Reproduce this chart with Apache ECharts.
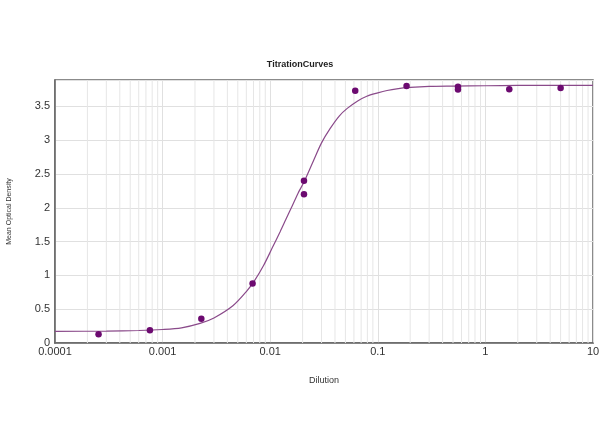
<!DOCTYPE html>
<html>
<head>
<meta charset="utf-8">
<script src="https://cdn.jsdelivr.net/npm/echarts@6/dist/echarts.min.js"></script>
<style>
html,body{margin:0;padding:0;background:#fff;}
#chart{width:600px;height:447px;}
</style>
</head>
<body>
<div id="chart"></div>
<script>
// Measured points (dilution, mean optical density)
const dilutions = [0.000254, 0.000762, 0.00229, 0.00686, 0.0206, 0.0206, 0.0617, 0.185, 0.556, 0.556, 1.667, 5];
const odValues  = [0.13, 0.19, 0.36, 0.88, 2.40, 2.20, 3.73, 3.80, 3.79, 3.75, 3.755, 3.77];

// Fitted curve
const curveX = [0.0001, 0.0003, 0.0006, 0.001, 0.0015, 0.00223, 0.003, 0.0045, 0.006, 0.0072, 0.0087, 0.0104, 0.0124, 0.014, 0.0154, 0.0168, 0.0182, 0.0206, 0.0253, 0.03, 0.036, 0.044, 0.052, 0.065, 0.079, 0.1, 0.122, 0.15, 0.2, 0.3, 0.5, 1, 2, 10];
const curveY = [0.173, 0.176, 0.185, 0.20, 0.225, 0.29, 0.37, 0.55, 0.76, 0.93, 1.15, 1.40, 1.65, 1.83, 1.97, 2.10, 2.22, 2.38, 2.70, 2.96, 3.17, 3.36, 3.47, 3.58, 3.65, 3.70, 3.735, 3.76, 3.78, 3.795, 3.80, 3.805, 3.81, 3.81];

const xTicks = [0.0001, 0.001, 0.01, 0.1, 1, 10];
const yMax = 3.89;

// minor gridlines (2..9 within each decade), drawn as a plain line series
const minorGrid = [];
for (let d = 0; d < xTicks.length - 1; d++) {
  for (let k = 2; k <= 9; k++) {
    const v = +(k * xTicks[d]).toPrecision(6);
    minorGrid.push([v, 0], [v, yMax], '-');
  }
}

const chart = echarts.init(document.getElementById('chart'));
const font = 'Arial, "Liberation Sans", sans-serif';
chart.setOption({
  animation: false,
  backgroundColor: '#fff',
  title: {
    text: 'TitrationCurves', left: 'center', top: 55,
    textStyle: { fontSize: 9, fontWeight: 'bold', color: '#222', fontFamily: font }
  },
  grid: { left: 55, right: 7, top: 80, bottom: 104, show: true, borderColor: '#666', borderWidth: 1.5,
          containLabel: false, outerBoundsMode: 'none' },
  xAxis: {
    type: 'log', logBase: 10, min: 0.0001, max: 10,
    name: 'Dilution', nameLocation: 'middle', nameGap: 33,
    nameTextStyle: { fontSize: 9, color: '#333', fontFamily: font },
    axisLine: { show: true, lineStyle: { color: '#666', width: 1.5 } },
    axisTick: { show: false },
    axisLabel: { fontSize: 11, color: '#333', fontFamily: font, margin: 3,
      formatter: v => String(+(+v).toPrecision(6)) },
    splitLine: { show: true, lineStyle: { color: '#e0e0e0', width: 1 } }
  },
  yAxis: {
    type: 'value', min: 0, max: yMax, interval: 0.5,
    name: 'Mean Optical Density', nameLocation: 'middle', nameGap: 42,
    nameTextStyle: { fontSize: 7, color: '#333', fontFamily: font },
    axisLine: { show: true, lineStyle: { color: '#666', width: 1.5 } },
    axisTick: { show: false },
    axisLabel: { fontSize: 11, color: '#333', fontFamily: font, margin: 5,
      showMaxLabel: false },
    splitLine: { show: true, lineStyle: { color: '#e0e0e0', width: 1 } }
  },
  series: [
    {
      type: 'line', data: minorGrid, silent: true, connectNulls: false,
      showSymbol: false, symbol: 'none', z: 1,
      lineStyle: { color: '#e6e6e6', width: 1 }
    },
    {
      type: 'line', data: curveX.map((x, i) => [x, curveY[i]]),
      smooth: 0.3, showSymbol: false, symbol: 'none',
      lineStyle: { color: '#8a4a8a', width: 1.2 }, z: 3
    },
    {
      type: 'scatter', data: dilutions.map((x, i) => [x, odValues[i]]),
      symbol: 'circle', symbolSize: 6.5,
      itemStyle: { color: '#6c0a70', opacity: 1 }, z: 4
    }
  ]
});
</script>
</body>
</html>
